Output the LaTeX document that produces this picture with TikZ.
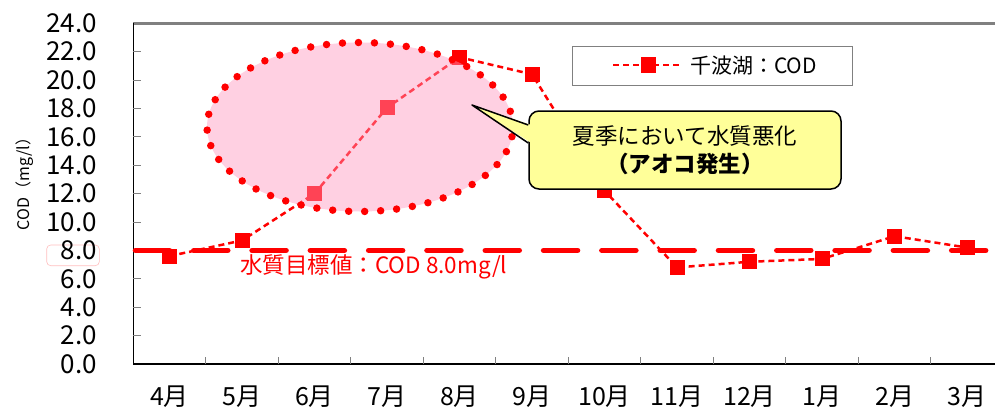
\documentclass[tikz,border=0pt]{standalone}
\usepackage{fontspec}
\setmainfont{Noto Sans CJK JP}
\usetikzlibrary{shapes.geometric}

\definecolor{codred}{RGB}{255,0,0}
\definecolor{notefill}{RGB}{255,255,153}
\definecolor{bloompink}{RGB}{255,150,190}
\definecolor{framegray}{RGB}{128,128,128}
\definecolor{hlred}{RGB}{255,190,190}

\tikzset{
  ylab/.style={anchor=east, inner sep=0pt, font=\fontsize{26}{26}\selectfont},
  mlab/.style={inner sep=0pt, font=\fontsize{25}{25}\selectfont},
  sqmark/.style={fill=codred, minimum size=15pt, inner sep=0pt},
  dataline/.style={codred, line width=2.5pt, dash pattern=on 6pt off 4pt},
  targetline/.style={codred, line width=5.5pt, line cap=round, dash pattern=on 34pt off 24.3pt},
  tickline/.style={framegray, line width=1pt},
  bloom/.style={ellipse, minimum width=306pt, minimum height=169pt, fill=bloompink, fill opacity=0.45,
    draw=codred, draw opacity=1, line width=7.5pt, line cap=round, dash pattern=on 0pt off 16pt},
  notebox/.style={fill=notefill, draw=black, line width=1.5pt, rounded corners=10pt,
    minimum width=312pt, minimum height=78pt, align=center, font=\fontsize{22.5}{28}\selectfont},
  legendbox/.style={draw=framegray, line width=1pt, minimum width=280pt, minimum height=39pt}
}

\begin{document}
\begin{tikzpicture}[x=1pt, y=-1pt]
  \useasboundingbox (0,0) rectangle (995,412);

  % axis label
  \node[rotate=90, font=\fontsize{16}{16}\selectfont] (ylabel) at (25,180) {COD（mg/l）};
  \draw[hlred, line width=0.6pt, rounded corners=4pt] (46.7,245) rectangle (99.3,265.7);

  \begin{scope}[shift={(133.3,364)}, x=72.5pt, y=14.2pt]
    % frame
    \draw[framegray, line width=3pt] (0,24) -- (12.2,24);
    \draw[black, line width=1.5pt] (0,24) -- (0,0) -- (12.2,0);
    \draw[tickline] (0,2) -- ++(8pt,0) (0,4) -- ++(8pt,0) (0,6) -- ++(8pt,0) (0,8) -- ++(8pt,0)
      (0,10) -- ++(8pt,0) (0,12) -- ++(8pt,0) (0,14) -- ++(8pt,0) (0,16) -- ++(8pt,0)
      (0,18) -- ++(8pt,0) (0,20) -- ++(8pt,0) (0,22) -- ++(8pt,0);
    \draw[tickline] (1,0) -- ++(0,7pt) (2,0) -- ++(0,7pt) (3,0) -- ++(0,7pt) (4,0) -- ++(0,7pt)
      (5,0) -- ++(0,7pt) (6,0) -- ++(0,7pt) (7,0) -- ++(0,7pt) (8,0) -- ++(0,7pt)
      (9,0) -- ++(0,7pt) (10,0) -- ++(0,7pt) (11,0) -- ++(0,7pt);

    \node[ylab] (y24) at (-0.5,24) {24.0};
    \node[ylab] (y22) at (-0.5,22) {22.0};
    \node[ylab] (y20) at (-0.5,20) {20.0};
    \node[ylab] (y18) at (-0.5,18) {18.0};
    \node[ylab] (y16) at (-0.5,16) {16.0};
    \node[ylab] (y14) at (-0.5,14) {14.0};
    \node[ylab] (y12) at (-0.5,12) {12.0};
    \node[ylab] (y10) at (-0.5,10) {10.0};
    \node[ylab] (y8) at (-0.5,8) {8.0};
    \node[ylab] (y6) at (-0.5,6) {6.0};
    \node[ylab] (y4) at (-0.5,4) {4.0};
    \node[ylab] (y2) at (-0.5,2) {2.0};
    \node[ylab] (y0) at (-0.5,0) {0.0};

    \node[mlab] (m4) at (0.5,-2.3) {4月};
    \node[mlab] (m5) at (1.5,-2.3) {5月};
    \node[mlab] (m6) at (2.5,-2.3) {6月};
    \node[mlab] (m7) at (3.5,-2.3) {7月};
    \node[mlab] (m8) at (4.5,-2.3) {8月};
    \node[mlab] (m9) at (5.5,-2.3) {9月};
    \node[mlab] (m10) at (6.5,-2.3) {10月};
    \node[mlab] (m11) at (7.5,-2.3) {11月};
    \node[mlab] (m12) at (8.5,-2.3) {12月};
    \node[mlab] (m1) at (9.5,-2.3) {1月};
    \node[mlab] (m2) at (10.5,-2.3) {2月};
    \node[mlab] (m3) at (11.5,-2.3) {3月};

    % target value
    \coordinate (G0) at (0.03,8);
    \coordinate (G1) at (11.78,8);
    \draw[targetline] (G0) -- (G1);

    % monthly COD
    \coordinate (D4) at (0.5,7.6);
    \coordinate (D5) at (1.5,8.7);
    \coordinate (D6) at (2.5,12.0);
    \coordinate (D7) at (3.5,18.05);
    \coordinate (D8) at (4.5,21.6);
    \coordinate (D9) at (5.5,20.4);
    \coordinate (D10) at (6.5,12.2);
    \coordinate (D11) at (7.5,6.8);
    \coordinate (D12) at (8.5,7.2);
    \coordinate (D1) at (9.5,7.4);
    \coordinate (D2) at (10.5,9.0);
    \coordinate (D3) at (11.5,8.2);

    \draw[dataline] (D4) -- (D5) -- (D6) -- (D7) -- (D8) -- (D9) -- (D10) -- (D11) -- (D12) -- (D1) -- (D2) -- (D3);

    \node[sqmark] (p4) at (D4) {};
    \node[sqmark] (p5) at (D5) {};
    \node[sqmark] (p6) at (D6) {};
    \node[sqmark] (p7) at (D7) {};
    \node[sqmark] (p8) at (D8) {};
    \node[sqmark] (p9) at (D9) {};
    \node[sqmark] (p10) at (D10) {};
    \node[sqmark] (p11) at (D11) {};
    \node[sqmark] (p12) at (D12) {};
    \node[sqmark] (p1) at (D1) {};
    \node[sqmark] (p2) at (D2) {};
    \node[sqmark] (p3) at (D3) {};
  \end{scope}

  \node[text=codred, anchor=west, inner sep=0pt, font=\fontsize{22.5}{22.5}\selectfont] (goal) at (240,266.7) {水質目標値：COD 8.0mg/l};

  % summer bloom
  \node[bloom] (summer) at (360,127) {};

  % callout
  \node[notebox] (note) at (685,150) {夏季において水質悪化\\\textbf{（アオコ発生）}};
  \coordinate (tip) at (472,105);
  \fill[notefill] ([yshift=25pt, xshift=3pt]note.west) -- (tip) -- ([yshift=7pt, xshift=3pt]note.west) -- cycle;
  \draw[black, line width=1.5pt, line join=round] ([yshift=25pt]note.west) -- (tip) -- ([yshift=7pt]note.west);

  % legend
  \node[legendbox] (legend) at (712.3,65.7) {};
  \coordinate (L0) at (613,65);
  \coordinate (L1) at (682,65);
  \draw[dataline] (L0) -- (L1);
  \node[sqmark] (lmark) at (648,65) {};
  \node[anchor=west, inner sep=0pt, font=\fontsize{21}{21}\selectfont] (ltext) at (690,65.7) {千波湖：COD};
\end{tikzpicture}
\end{document}
